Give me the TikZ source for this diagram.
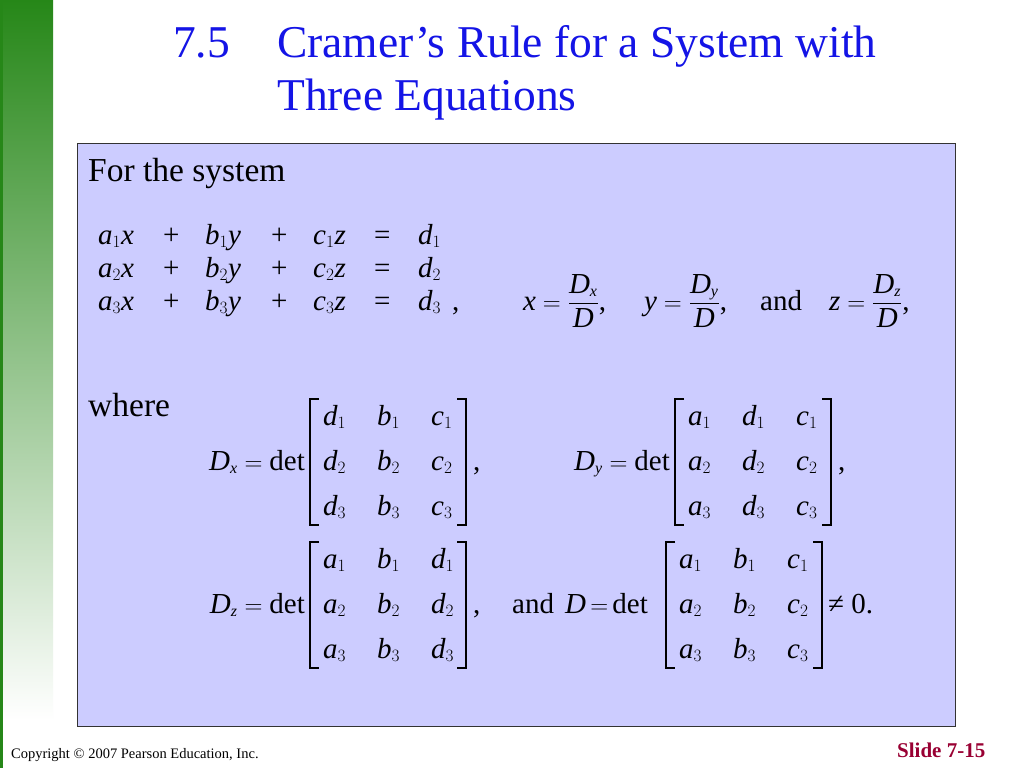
\documentclass[tikz,border=0pt]{standalone}
\usepackage{amsmath}
\usepackage{fontspec}
\setmainfont{Liberation Serif}
\DeclareSymbolFont{letters}{TU}{\rmdefault}{m}{it}
\DeclareMathSymbol{=}{\mathrel}{operators}{"3D}
\DeclareMathSymbol{+}{\mathbin}{operators}{"2B}
\DeclareMathSizes{29}{29}{16}{12}
\definecolor{slidegreen}{RGB}{38,135,24}
\definecolor{boxfill}{RGB}{204,204,255}
\definecolor{titleblue}{RGB}{20,20,230}
\definecolor{slidered}{RGB}{153,0,51}
\begin{document}
\begin{tikzpicture}[x=1pt,y=-1pt]
    \tikzset{mathtxt/.style={anchor=base west,inner sep=0pt,font=\fontsize{29}{34}\selectfont},
             bodytxt/.style={anchor=base west,inner sep=0pt,font=\fontsize{33.5}{40}\selectfont},
             titletxt/.style={anchor=base west,inner sep=0pt,text=titleblue,font=\fontsize{45.5}{54}\selectfont},
             bracket/.style={line width=1.7pt}}

    \useasboundingbox (0,0) rectangle (1024,768);
    \fill[white] (0,0) rectangle (1024,768);

    % green bar at the left
    \shade[top color=slidegreen,bottom color=white] (0,0) rectangle (53,720);
    \fill[slidegreen] (0,0) rectangle (2.5,768);

    % title
    \node[titletxt] (secnum) at (173,57) {7.5};
    \node[titletxt] (title1) at (277,57) {Cramer’s Rule for a System with};
    \node[titletxt] (title2) at (277,110) {Three Equations};

    % box
    \draw[fill=boxfill,draw=black!80,line width=1pt] (77,143) rectangle (955,726);

    \node[bodytxt] (forsys) at (88,181) {For the system};

    % the system
    \foreach \i/\yy in {1/244,2/277,3/310}{
      \node[mathtxt] (ax\i) at (98,\yy) {$a_{\i}x$};
      \node[mathtxt] (plusa\i) at (163,\yy) {+};
      \node[mathtxt] (by\i) at (205,\yy) {$b_{\i}y$};
      \node[mathtxt] (plusb\i) at (271,\yy) {+};
      \node[mathtxt] (cz\i) at (313,\yy) {$c_{\i}z$};
      \node[mathtxt] (eq\i) at (374,\yy) {=};
      \node[mathtxt] (d\i) at (418,\yy) {$d_{\i}$};
    }
    \node[mathtxt] (syscomma) at (452,310) {,};

    % solutions
    \node[mathtxt] (solx) at (523,310) {$x=\dfrac{D_x}{D}$,};
    \node[mathtxt] (soly) at (644,310) {$y=\dfrac{D_y}{D}$,};
    \node[mathtxt] (soland) at (760,310) {and};
    \node[mathtxt] (solz) at (829,310) {$z=\dfrac{D_z}{D}$,};

    \node[bodytxt] (where) at (88,416) {where};

    % determinants
    \foreach \m/\xl/\yt/\cols in {Dx/310/425/{d,b,c},Dy/675/425/{a,d,c},Dz/310/568/{a,b,d},D/666/568/{a,b,c}}{
      \foreach \c [count=\j] in \cols{
        \foreach \i in {1,2,3}{
          \node[mathtxt] (\m-\i-\j) at ({\xl+13+(\j-1)*54},{\yt+(\i-1)*45}) {$\c_{\i}$};
        }
      }
      \draw[bracket] ({\xl+9},{\yt-26}) -- (\xl,{\yt-26}) -- (\xl,{\yt+100}) -- ({\xl+9},{\yt+100});
      \draw[bracket] ({\xl+147},{\yt-26}) -- ({\xl+156},{\yt-26}) -- ({\xl+156},{\yt+100}) -- ({\xl+147},{\yt+100});
    }

    \node[mathtxt,anchor=base east] (Dxlab) at (305,470) {$D_x=\det$};
    \node[mathtxt] (Dxcomma) at (473,470) {,};
    \node[mathtxt,anchor=base east] (Dylab) at (670,470) {$D_y=\det$};
    \node[mathtxt] (Dycomma) at (838,470) {,};
    \node[mathtxt,anchor=base east] (Dzlab) at (305,613) {$D_z=\det$};
    \node[mathtxt] (Dzcomma) at (473,613) {,};
    \node[mathtxt] (detand) at (512,613) {and};
    \node[mathtxt,anchor=base east] (Dlab) at (648,613) {$\thickmuskip=3mu D=\det$};
    \node[mathtxt] (nonzero) at (828,613) {≠ 0.};

    % footer
    \node[anchor=base west,inner sep=0pt,font=\fontsize{14.5}{17}\selectfont] (copy) at (11,758) {Copyright © 2007 Pearson Education, Inc.};
    \node[anchor=base west,inner sep=0pt,text=slidered,font=\fontsize{21}{25}\selectfont\bfseries] (slideno) at (897,757) {Slide 7-15};
  \end{tikzpicture}
\end{document}
